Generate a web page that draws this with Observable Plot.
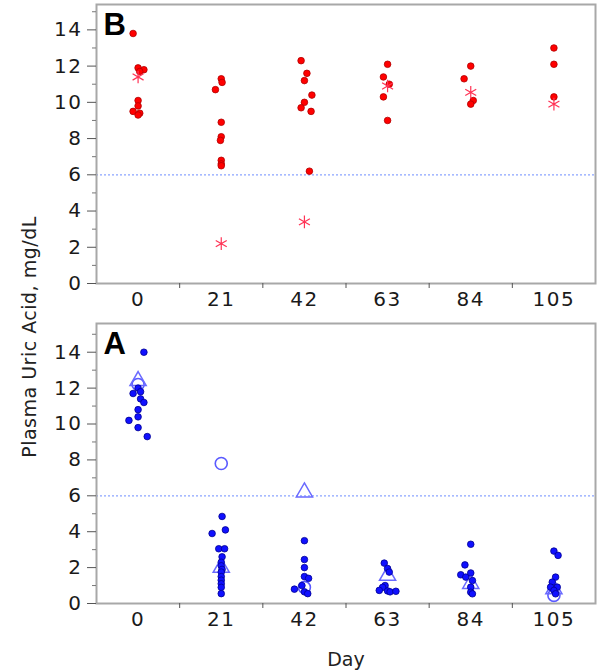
<!DOCTYPE html>
<html>
<head>
<meta charset="utf-8">
<script src="https://cdn.jsdelivr.net/npm/d3@7"></script>
<script src="https://cdn.jsdelivr.net/npm/@observablehq/plot@0.6"></script>
<style>
  html, body { margin: 0; padding: 0; background: #fff; }
  #wrap { position: relative; width: 600px; height: 671px; overflow: hidden; }
  #wrap svg { display: block; }
  #wrap svg g[aria-label="y-axis tick label"] text,
  #wrap svg g[aria-label="x-axis tick label"] text { letter-spacing: 1.5px; }
  #ytitle {
    position: absolute; left: 29px; top: 337px;
    transform: translate(-50%, -50%) rotate(-90deg);
    font-family: "DejaVu Sans", sans-serif; font-size: 19px; color: #222;
    letter-spacing: 0.5px; white-space: nowrap;
  }
</style>
</head>
<body>
<div id="wrap"><div id="ytitle">Plasma Uric Acid, mg/dL</div></div>
<script>
// ---- data ----
const days = [0, 21, 42, 63, 84, 105];
const yMajorTicks = [0, 2, 4, 6, 8, 10, 12, 14];
const yMinorTicks = [1, 3, 5, 7, 9, 11, 13, 15];
const threshold = 6;

// Panel B (red): individual values (dots) and asterisk markers
const bDotDay    = [0,0,0,0,0,0,0,0,0, 21,21,21,21,21,21,21,21,21, 42,42,42,42,42,42,42,42, 63,63,63,63,63, 84,84,84,84, 105,105,105];
const bDotUric   = [13.8,11.9,11.8,11.7,10.1,9.8,9.5,9.4,9.3, 11.3,11.1,10.7,8.9,8.1,7.9,6.8,6.6,6.5, 12.3,11.6,11.2,10.4,10.0,9.7,9.5,6.2, 12.1,11.4,11.0,10.3,9.0, 12.0,11.3,10.1,9.9, 13.0,12.1,10.3];
const bDotJitter = [-0.06,0,0.07,0.02,0,0,-0.06,0.02,0, 0,0.01,-0.07,0,0,-0.01,0,0,0, -0.04,0.03,0,0.09,0,-0.04,0.08,0.06, 0,-0.05,0.02,-0.05,0, 0,-0.08,0.03,0, 0,0,0];
const bStarDay  = [0, 21, 42, 63, 84, 105];
const bStarUric = [11.4, 2.2, 3.4, 10.9, 10.55, 9.9];

// Panel A (blue): individual values (dots), open circles, open triangles
const aDotDay    = [0,0,0,0,0,0,0,0,0,0,0, 21,21,21,21,21,21,21,21,21,21,21,21,21,21,21, 42,42,42,42,42,42,42,42,42, 63,63,63,63,63,63,63,63,63, 84,84,84,84,84,84,84,84,84, 105,105,105,105,105,105,105,105];
const aDotUric   = [14.0,12.0,11.8,11.7,11.4,11.2,10.8,10.4,10.2,9.8,9.3,
                    4.85,4.1,3.9,3.05,3.05,2.6,2.3,2.1,1.9,1.75,1.5,1.3,1.1,0.9,0.55,
                    3.5,2.45,2.0,1.5,1.4,1.0,0.8,0.65,0.55,
                    2.25,1.95,1.75,1.0,0.9,0.73,0.7,0.65,0.68,
                    3.3,2.15,1.6,1.47,1.7,1.28,0.91,0.63,0.54,
                    2.92,2.68,1.47,1.19,0.91,0.91,0.73,0.54];
const aDotJitter = [0.07,0,0.03,-0.06,0.03,0.07,0,0,-0.11,0,0.11,
                    0.01,0.05,-0.11,-0.03,0.04,0.01,0,0,0.01,0,0,0,0,0,0,
                    0,0,0,0,0.05,-0.03,-0.12,0,0.04,
                    -0.04,0,0.02,-0.03,-0.06,-0.1,0,0.03,0.1,
                    0,-0.07,-0.12,-0.06,0,0.02,0,0,0.02,
                    0,0.05,0.02,-0.02,-0.04,0.04,0,0.02];
const aCircleDay  = [0, 21, 42, 105];
const aCircleUric = [12.2, 7.8, 0.9, 0.45];
const aTriDay     = [0, 21, 42, 63, 84, 105];
const aTriUric    = [12.4, 2.0, 6.2, 1.55, 1.1, 0.8];

// ---- build ----
const idx = d => days.indexOf(d);
const rows = (dayArr, valArr, jitArr) => dayArr.map((d, i) => ({x: idx(d) + (jitArr ? jitArr[i] : 0), y: valArr[i]}));

const font = "DejaVu Sans, sans-serif";

function panel({letter, height, marginTop, marginBottom, yMax, marks, dayLabel}) {
  return Plot.plot({
    width: 600,
    height,
    marginLeft: 96,
    marginRight: 5,
    marginTop,
    marginBottom,
    style: {fontFamily: font, color: "#1a1a1a", background: "#fff"},
    x: {type: "linear", domain: [-0.5, 5.5]},
    y: {domain: [0, yMax]},
    marks: [
      Plot.ruleY([threshold], {stroke: "#8aa4ff", strokeWidth: 1.3, strokeDasharray: "2,2"}),
      ...marks,
      Plot.frame({stroke: "#a8a8a8", strokeWidth: 2}),
      Plot.axisY({ticks: yMajorTicks, tickSize: 9, tickPadding: 5, fontSize: 20, label: null, stroke: "#555"}),
      Plot.axisY({ticks: yMinorTicks, tickSize: 4, tickFormat: () => "", label: null, stroke: "#777"}),
      Plot.axisX({ticks: d3.range(days.length), tickSize: 0, tickPadding: 8, fontSize: 20, tickFormat: i => days[i], label: null}),
      Plot.axisX({ticks: d3.range(days.length - 1).map(i => i + 0.5), tickSize: 5, tickFormat: () => "", label: null, stroke: "#555"}),
      Plot.text([letter], {frameAnchor: "top-left", dx: 7, dy: 8, lineAnchor: "top", fontSize: 31, fontWeight: "bold", fontFamily: "Liberation Sans, Arial, sans-serif", fill: "#000"}),
      ...(dayLabel ? [Plot.text([dayLabel], {frameAnchor: "bottom", dy: 62, lineAnchor: "bottom", fontSize: 19, fill: "#222"})] : [])
    ]
  });
}

const plotB = panel({
  letter: "B", height: 320, marginTop: 4, marginBottom: 37, yMax: 15.4,
  marks: [
    Plot.dot(rows(bDotDay, bDotUric, bDotJitter), {x: "x", y: "y", r: 3.3, fill: "#ff0000", stroke: "#b00000", strokeWidth: 0.8}),
    Plot.dot(rows(bStarDay, bStarUric), {x: "x", y: "y", r: 6, symbol: "asterisk", stroke: "#ff3355", strokeWidth: 1.2})
  ]
});

const plotA = panel({
  letter: "A", height: 351, marginTop: 3, marginBottom: 68, yMax: 15.6, dayLabel: "Day",
  marks: [
    Plot.dot(rows(aCircleDay, aCircleUric), {x: "x", y: "y", r: 6, symbol: "circle", stroke: "#5a5aff", strokeWidth: 1.6, fill: "none"}),
    Plot.dot(rows(aTriDay, aTriUric), {x: "x", y: "y", r: 6, symbol: "triangle", stroke: "#6a6aff", strokeWidth: 1.5, fill: "none"}),
    Plot.dot(rows(aDotDay, aDotUric, aDotJitter), {x: "x", y: "y", r: 3.3, fill: "#1010ff", stroke: "#000090", strokeWidth: 0.8})
  ]
});

const wrap = document.getElementById("wrap");
wrap.insertBefore(plotB, wrap.firstChild);
wrap.insertBefore(plotA, document.getElementById("ytitle"));
</script>
</body>
</html>
